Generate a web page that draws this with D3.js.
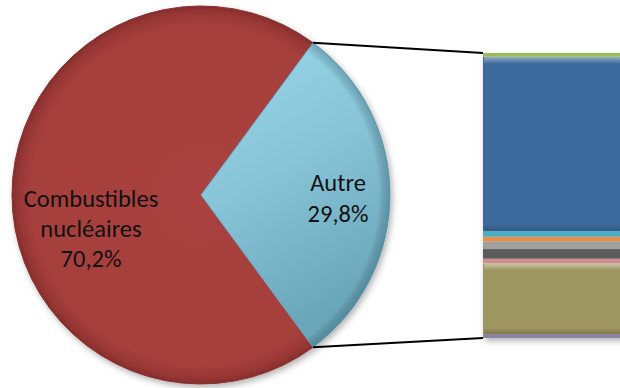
<!DOCTYPE html>
<html>
<head>
<meta charset="utf-8">
<script src="https://cdn.jsdelivr.net/npm/d3@7"></script>
<style>
  html, body { margin: 0; padding: 0; background: #fff; }
  svg { display: block; }
  text { font-family: Carlito, Calibri, Lato, "Open Sans", sans-serif; }
</style>
</head>
<body>
<svg id="chart" width="620" height="388"></svg>
<script>
// Main pie
const pieLabels = ["Combustibles nucléaires", "Autre"];
const pieValues = [70.2, 29.8];

// Breakdown of "Autre", listed from the top of the bar to the bottom
const barKeys = ["s1", "s2", "s3", "s4", "s5", "s6", "s7", "s8", "s9"];
const barValues = [0.4, 18.2, 0.6, 0.5, 0.8, 1.0, 0.5, 7.4, 0.4];

const barColors = ["#9BBB59", "#3E6A9C", "#4BACC6", "#E8904A", "#A0A0A0",
                   "#5C5C5C", "#CF8E8E", "#9E9660", "#8C82A6"];

const W = 620, H = 388;
const cx = 201, cy = 195, R = 189;
const barX = 483, barW = 200, barTop = 53, barBottom = 338;

const svg = d3.select("#chart");
const defs = svg.append("defs");

// soft shadow
const sh = defs.append("filter").attr("id", "shadow")
  .attr("x", "-10%").attr("y", "-10%").attr("width", "125%").attr("height", "125%");
sh.append("feDropShadow").attr("dx", 2).attr("dy", 3).attr("stdDeviation", 3)
  .attr("flood-color", "#000").attr("flood-opacity", 0.3);

// slice fills (pie group is translated to the centre, so gradients are centred on 0,0)
const gRed = defs.append("radialGradient").attr("id", "gRed")
  .attr("gradientUnits", "userSpaceOnUse").attr("cx", 0).attr("cy", 0).attr("r", R);
gRed.append("stop").attr("offset", "0%").attr("stop-color", "#A9423F");
gRed.append("stop").attr("offset", "90%").attr("stop-color", "#A63F3D");
gRed.append("stop").attr("offset", "97%").attr("stop-color", "#963634");
gRed.append("stop").attr("offset", "100%").attr("stop-color", "#852C2B");

const gBlue = defs.append("linearGradient").attr("id", "gBlue")
  .attr("x1", "0").attr("y1", "0").attr("x2", "0.35").attr("y2", "1");
gBlue.append("stop").attr("offset", "0%").attr("stop-color", "#9AD8EC");
gBlue.append("stop").attr("offset", "50%").attr("stop-color", "#88C4D8");
gBlue.append("stop").attr("offset", "100%").attr("stop-color", "#6AA6BA");

const gRim = defs.append("radialGradient").attr("id", "gRim")
  .attr("gradientUnits", "userSpaceOnUse").attr("cx", 0).attr("cy", 0).attr("r", R);
gRim.append("stop").attr("offset", "0%").attr("stop-color", "#000").attr("stop-opacity", 0);
gRim.append("stop").attr("offset", "94%").attr("stop-color", "#000").attr("stop-opacity", 0);
gRim.append("stop").attr("offset", "100%").attr("stop-color", "#1c4a5a").attr("stop-opacity", 0.3);

// bevel bands for bar segments
const gHi = defs.append("linearGradient").attr("id", "gHi")
  .attr("x1", 0).attr("y1", 0).attr("x2", 0).attr("y2", 1);
gHi.append("stop").attr("offset", "0%").attr("stop-color", "#fff").attr("stop-opacity", 0.45);
gHi.append("stop").attr("offset", "100%").attr("stop-color", "#fff").attr("stop-opacity", 0);
const gLo = defs.append("linearGradient").attr("id", "gLo")
  .attr("x1", 0).attr("y1", 0).attr("x2", 0).attr("y2", 1);
gLo.append("stop").attr("offset", "0%").attr("stop-color", "#000").attr("stop-opacity", 0);
gLo.append("stop").attr("offset", "100%").attr("stop-color", "#000").attr("stop-opacity", 0.22);

// ---- pie ----
const a = pieValues[1] / d3.sum(pieValues) * 2 * Math.PI;
const start = Math.PI / 2 + a / 2;
const pie = d3.pie().sort(null).value(d => d)
  .startAngle(start).endAngle(start + 2 * Math.PI);
const arcs = pie(pieValues);
const arc = d3.arc().innerRadius(0).outerRadius(R);

const gp = svg.append("g").attr("transform", `translate(${cx},${cy})`);
const gPie = gp.append("g").attr("filter", "url(#shadow)");
gPie.selectAll("path.slice").data(arcs).join("path")
  .attr("class", "slice")
  .attr("d", arc)
  .attr("fill", (d, i) => i === 0 ? "url(#gRed)" : "url(#gBlue)")
  .attr("stroke", (d, i) => i === 0 ? "#8a3331" : "#6aa6ba")
  .attr("stroke-width", 1);
// darkened rim on the blue slice
gp.append("path").attr("d", arc(arcs[1])).attr("fill", "url(#gRim)");

// ---- connector lines ----
const pt = ang => [cx + R * Math.sin(ang), cy - R * Math.cos(ang)];
const y = d3.scaleLinear().domain([0, d3.sum(barValues)]).range([barBottom, barTop]);
const pTop = pt(arcs[1].startAngle), pBot = pt(arcs[1].endAngle);
svg.append("line").attr("x1", pTop[0]).attr("y1", pTop[1])
  .attr("x2", barX).attr("y2", y(d3.sum(barValues)))
  .attr("stroke", "#000").attr("stroke-width", 2);
svg.append("line").attr("x1", pBot[0]).attr("y1", pBot[1])
  .attr("x2", barX).attr("y2", y(0))
  .attr("stroke", "#000").attr("stroke-width", 2);

// ---- stacked bar ----
// stack bottom-up: reverse the top-to-bottom order
const order = d3.range(barValues.length).reverse();
let acc = 0;
const segs = order.map(i => {
  const s = { key: barKeys[i], v: barValues[i], c: barColors[i], y0: acc, y1: acc + barValues[i] };
  acc += barValues[i];
  return s;
});
const gBar = svg.append("g").attr("filter", "url(#shadow)");
gBar.selectAll("rect.seg").data(segs).join("rect")
  .attr("class", "seg")
  .attr("x", barX).attr("width", barW)
  .attr("y", d => y(d.y1)).attr("height", d => y(d.y0) - y(d.y1))
  .attr("fill", d => d.c);
const big = segs.filter(d => y(d.y0) - y(d.y1) > 12);
const gBev = svg.append("g");
gBev.selectAll("rect.hi").data(big).join("rect")
  .attr("x", barX + 1).attr("width", barW)
  .attr("y", d => y(d.y1))
  .attr("height", 7)
  .attr("fill", "url(#gHi)");
gBev.selectAll("rect.lo").data(big).join("rect")
  .attr("x", barX + 1).attr("width", barW)
  .attr("y", d => y(d.y0) - 6)
  .attr("height", 6)
  .attr("fill", "url(#gLo)");

// ---- labels ----
const fs = 24.5;
const lab1 = svg.append("text").attr("text-anchor", "middle").attr("font-size", fs).attr("fill", "#111");
["Combustibles", "nucléaires", "70,2%"].forEach((t, i) =>
  lab1.append("tspan").attr("x", 91).attr("y", 207 + i * 30).text(t));
const lab2 = svg.append("text").attr("text-anchor", "middle").attr("font-size", fs).attr("fill", "#111");
["Autre", "29,8%"].forEach((t, i) =>
  lab2.append("tspan").attr("x", 338).attr("y", 191 + i * 31).text(t));
</script>
</body>
</html>
